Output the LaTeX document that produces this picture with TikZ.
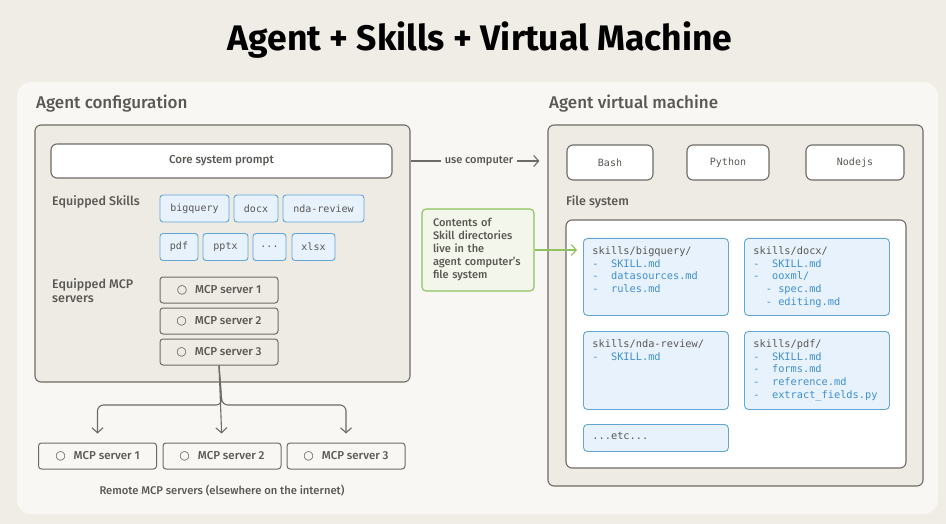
\documentclass[tikz,border=0pt]{standalone}
\usepackage{fontspec}
\setmainfont{Fira Sans}[UprightFont={* Medium}, BoldFont={* Bold}]
\setmonofont{DejaVu Sans Mono}
\newfontfamily\symfont{DejaVu Sans}
\usetikzlibrary{positioning,arrows.meta}

\definecolor{bgpage}{HTML}{EFEDE6}
\definecolor{bgpanel}{HTML}{F8F7F3}
\definecolor{boxfill}{HTML}{EEEBE4}
\definecolor{edge}{HTML}{6E6B66}
\definecolor{txt}{HTML}{5A5854}
\definecolor{chipfill}{HTML}{E7F2FC}
\definecolor{chipedge}{HTML}{62A5D8}
\definecolor{chiptxt}{HTML}{3F8FD0}
\definecolor{notefill}{HTML}{F3F6EA}
\definecolor{noteedge}{HTML}{8DC25E}

\newcommand{\fline}[1]{\textcolor{chiptxt}{#1}}
\newcommand{\circmark}{{\symfont\fontsize{12}{12}\selectfont ○}}

\begin{document}
\begin{tikzpicture}[x=1pt, y=-1pt,
        box/.style={rectangle, draw=edge, line width=1.1pt, rounded corners=6pt, fill=boxfill, inner sep=0pt},
        wbox/.style={box, fill=white, text=txt},
        chip/.style={rectangle, draw=chipedge, line width=0.9pt, rounded corners=3pt, fill=chipfill, minimum height=27pt, inner sep=0pt, text=txt, font=\ttfamily\fontsize{10}{11}\selectfont},
        server/.style={rectangle, draw=edge, line width=1pt, rounded corners=3pt, minimum width=118pt, minimum height=26pt, text=txt, font=\fontsize{11.5}{13}\selectfont},
        dir/.style={rectangle, draw=chipedge, line width=0.9pt, rounded corners=4pt, fill=chipfill, anchor=north west, inner xsep=9pt, inner ysep=8pt, text=txt, font=\ttfamily\fontsize{10.3}{12.7}\selectfont},
        head/.style={anchor=west, inner sep=0pt, text=txt, font=\fontsize{17}{20}\selectfont},
        small/.style={anchor=west, inner sep=0pt, text=txt, font=\fontsize{12.5}{14}\selectfont},
        note/.style={rectangle, draw=noteedge, line width=1.1pt, rounded corners=4pt, fill=notefill, minimum width=112pt, minimum height=82pt, text width=90pt, align=left, text=txt, font=\fontsize{11}{13}\selectfont},
        arrow/.style={-{Straight Barb[length=5pt,width=11pt]}, color=edge, line width=1.1pt}
      ]
      \useasboundingbox (0,0) rectangle (946,524);
      \fill[bgpage] (0,0) rectangle (946,524);
      \fill[bgpanel, rounded corners=14pt] (17,82) rectangle (938,514);

      % Title
      \node[font=\fontsize{35.5}{42}\selectfont\bfseries] (title) at (480,40) {Agent + Skills + Virtual Machine};

      % Agent configuration
      \node[head] (cfghead) at (36,104) {Agent configuration};
      \node[box, minimum width=375pt, minimum height=257pt] (cfg) at (222.5,253.5) {};
      \node[wbox, minimum width=341pt, minimum height=34pt, font=\fontsize{11.5}{13}\selectfont] (core) at (221.5,161) {Core system prompt};

      % Equipped skills
      \node[small] (skillhead) at (52,202) {Equipped Skills};
      \node[chip, minimum width=69pt] (bigquery) at (194.5,208.5) {bigquery};
      \node[chip, minimum width=44pt] (docx) at (256,208.5) {docx};
      \node[chip, minimum width=81pt] (ndareview) at (323.5,208.5) {nda-review};
      \node[chip, minimum width=38pt] (pdf) at (179,247) {pdf};
      \node[chip, minimum width=45pt] (pptx) at (225.5,247) {pptx};
      \node[chip, minimum width=33pt] (more) at (269.5,247) {...};
      \node[chip, minimum width=43pt] (xlsx) at (313.5,247) {xlsx};

      % Equipped MCP servers
      \node[small, align=left] (mcphead) at (52,291) {Equipped MCP\\servers};
      \node[server] (m1) at (219,290) {\circmark\hspace{8pt}MCP server 1};
      \node[server] (m2) at (219,321) {\circmark\hspace{8pt}MCP server 2};
      \node[server] (m3) at (219,352) {\circmark\hspace{8pt}MCP server 3};

      % Remote MCP servers
      \node[server] (r1) at (97.5,456) {\circmark\hspace{8pt}MCP server 1};
      \node[server] (r2) at (222,456) {\circmark\hspace{8pt}MCP server 2};
      \node[server] (r3) at (346,456) {\circmark\hspace{8pt}MCP server 3};
      \node[text=txt, font=\fontsize{11.2}{13}\selectfont] (remotecap) at (222,491) {Remote MCP servers (elsewhere on the internet)};

      % Agent virtual machine
      \node[head] (vmhead) at (549,104) {Agent virtual machine};
      \node[box, minimum width=375pt, minimum height=361pt] (vm) at (735.5,305.5) {};
      \node[wbox, minimum width=86pt, minimum height=35pt, font=\ttfamily\fontsize{10}{11}\selectfont] (bash) at (610,162.5) {Bash};
      \node[wbox, minimum width=82pt, minimum height=35pt, font=\ttfamily\fontsize{10}{11}\selectfont] (python) at (728,162.5) {Python};
      \node[wbox, minimum width=98pt, minimum height=35pt, font=\ttfamily\fontsize{10}{11}\selectfont] (nodejs) at (855,162.5) {Nodejs};

      % File system
      \node[small] (fshead) at (566,202) {File system};
      \node[wbox, minimum width=340pt, minimum height=248pt] (fs) at (736,344) {};
      \node[dir] (d1) at (583,238) {\parbox[t][61pt][t]{127pt}{skills/bigquery/\\\fline{-~~SKILL.md}\\\fline{-~~datasources.md}\\\fline{-~~rules.md}}};
      \node[dir] (d2) at (744,238) {\parbox[t][61pt][t]{127pt}{skills/docx/\\\fline{-~~SKILL.md}\\\fline{-~~ooxml/}\\\fline{~~-~spec.md}\\\fline{~~-~editing.md}}};
      \node[dir] (d3) at (583,331) {\parbox[t][62pt][t]{127pt}{skills/nda-review/\\\fline{-~~SKILL.md}}};
      \node[dir] (d4) at (744,331) {\parbox[t][62pt][t]{127pt}{skills/pdf/\\\fline{-~~SKILL.md}\\\fline{-~~forms.md}\\\fline{-~~reference.md}\\\fline{-~~extract\_fields.py}}};
      \node[dir] (d5) at (583,424) {\parbox[t][11pt][t]{127pt}{...etc...}};

      % Note on skill directories
      \node[note] (note) at (478,250) {Contents of\\Skill directories\\live in the\\agent computer's\\file system};

      % Connections
      \draw[arrow, shorten >=8pt] (cfg.east |- core) -- node[fill=bgpanel, inner sep=4pt, text=txt, font=\fontsize{11}{13}\selectfont] (usecomp) {use computer} (vm.west |- core);
      \draw[arrow, color=noteedge, shorten >=6pt] (note.east) -- (note.east -| d1.west);

      \coordinate (split) at (222,405);
      \draw[arrow, shorten >=9pt] (m3.south) -- (r2.north);
      \draw[arrow, shorten >=9pt, rounded corners=6pt] (m3.south) -- (split) -| (r1.north);
      \draw[arrow, shorten >=9pt, rounded corners=6pt] (m3.south) -- (split) -| (r3.north);
    \end{tikzpicture}
\end{document}
